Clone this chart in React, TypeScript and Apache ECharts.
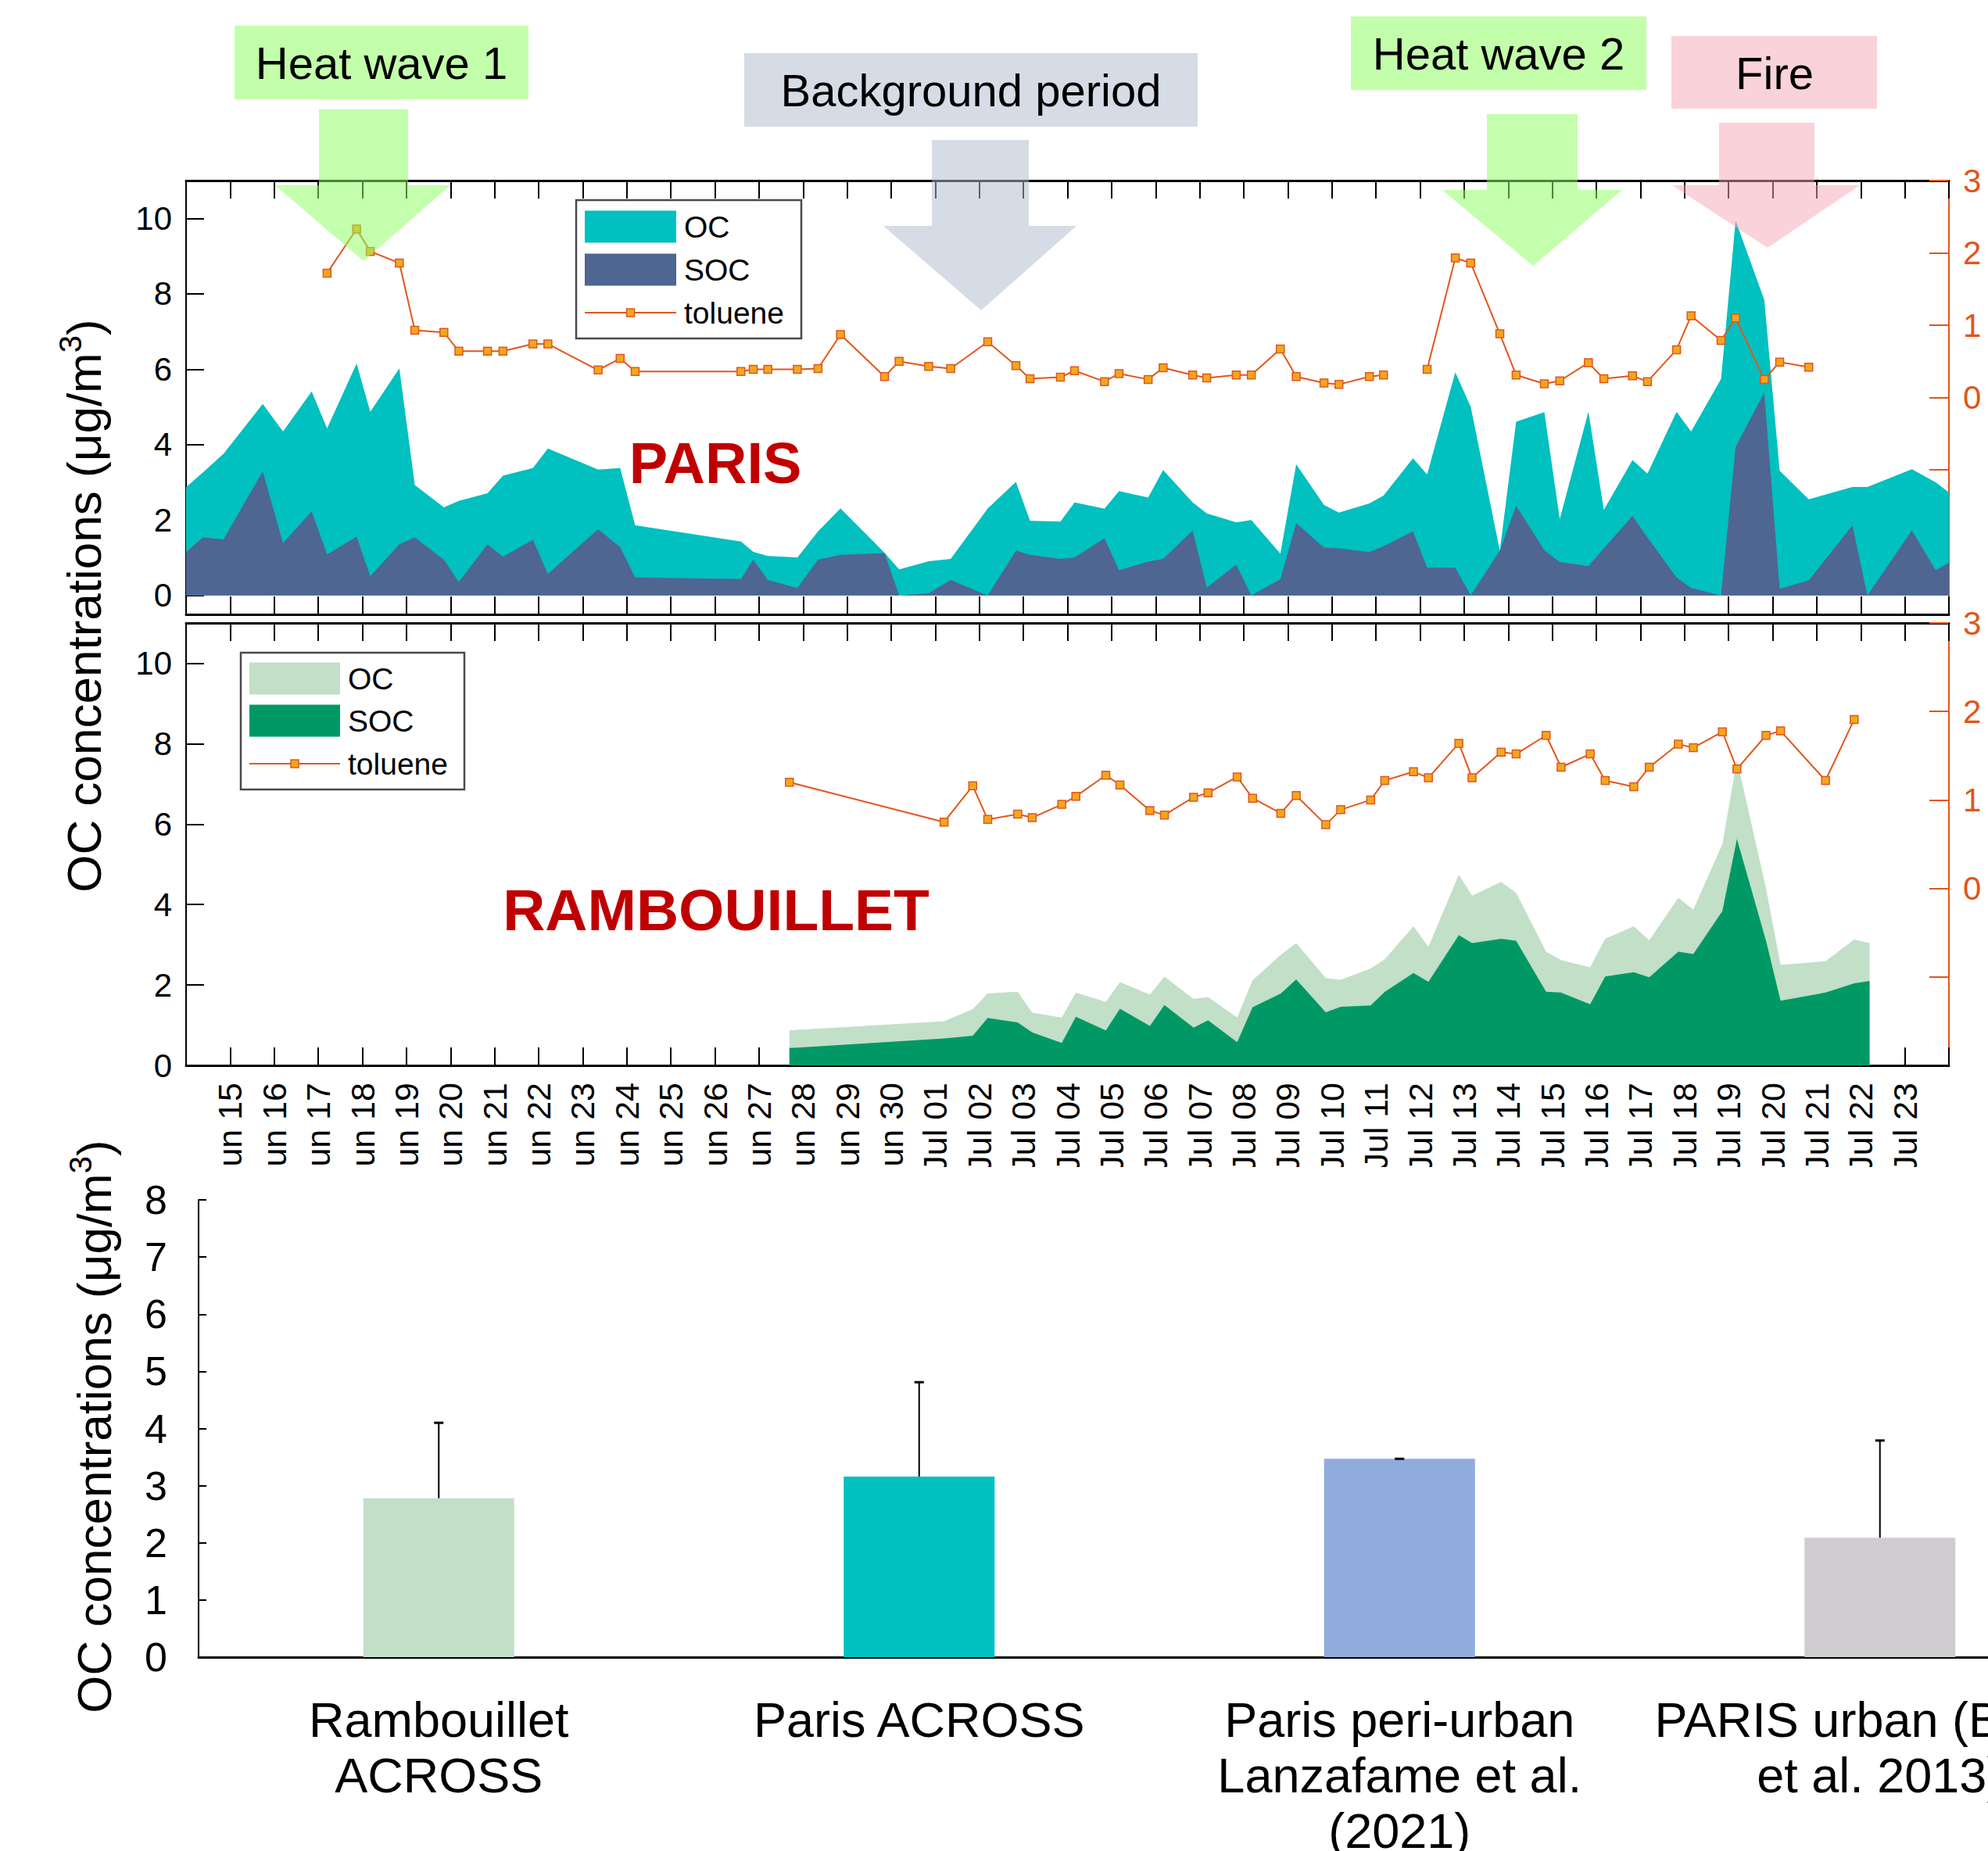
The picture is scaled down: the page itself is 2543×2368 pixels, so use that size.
import React, { useEffect, useRef } from 'react';
import * as echarts from 'echarts';

const FONT = '"Liberation Sans", Arial, Helvetica, sans-serif';

// ---------- tick labels (day 1 = Jun 15 ... day 39 = Jul 23; day 0 = Jun 14) ----------
const dateLabels = [
  'Jun 15', 'Jun 16', 'Jun 17', 'Jun 18', 'Jun 19', 'Jun 20', 'Jun 21', 'Jun 22', 'Jun 23', 'Jun 24',
  'Jun 25', 'Jun 26', 'Jun 27', 'Jun 28', 'Jun 29', 'Jun 30', 'Jul 01', 'Jul 02', 'Jul 03', 'Jul 04',
  'Jul 05', 'Jul 06', 'Jul 07', 'Jul 08', 'Jul 09', 'Jul 10', 'Jul 11', 'Jul 12', 'Jul 13', 'Jul 14',
  'Jul 15', 'Jul 16', 'Jul 17', 'Jul 18', 'Jul 19', 'Jul 20', 'Jul 21', 'Jul 22', 'Jul 23',
];

// ---------- PARIS (days since Jun 14) ----------
const parisDays = [
  0, 0.38, 0.85, 1.74, 2.2, 2.85, 3.2, 3.87, 4.18, 4.84, 5.19, 5.85, 6.19, 6.84, 7.19, 7.87, 8.21, 9.35, 9.85, 10.19,
  12.59, 12.87, 13.2, 13.87, 14.34, 14.85, 15.85, 16.18, 16.85, 17.35, 18.19, 18.83, 19.15, 19.84, 20.16, 20.84, 21.17,
  21.83, 22.17, 22.84, 23.16, 23.83, 24.17, 24.83, 25.19, 25.82, 26.16, 26.85, 27.17, 27.84, 28.16, 28.8, 29.15, 29.81,
  30.18, 30.82, 31.17, 31.82, 32.17, 32.82, 33.16, 33.82, 34.15, 34.83, 35.16, 35.81, 36.16, 36.82, 37.81, 38.15, 39.16,
  39.7, 40,
];
const parisOC = [
  2.87, 3.26, 3.76, 5.08, 4.35, 5.41, 4.43, 6.15, 4.87, 6.02, 2.93, 2.34, 2.51, 2.71, 3.18, 3.38, 3.9, 3.34, 3.38, 1.86,
  1.43, 1.16, 1.05, 1.01, 1.7, 2.31, 1.13, 0.69, 0.91, 0.97, 2.31, 3.01, 1.98, 1.96, 2.47, 2.3, 2.77,
  2.6, 3.33, 2.47, 2.18, 1.94, 2.0, 1.11, 3.48, 2.4, 2.2, 2.44, 2.65, 3.64, 3.21, 5.92, 5.0, 1.19,
  4.61, 4.86, 2.03, 4.87, 2.27, 3.59, 3.23, 4.87, 4.35, 5.74, 9.94, 7.84, 3.31, 2.55, 2.88, 2.88, 3.35,
  3.0, 2.73,
];
const parisSOC = [
  1.15, 1.54, 1.49, 3.29, 1.39, 2.23, 1.09, 1.56, 0.51, 1.36, 1.54, 0.95, 0.36, 1.36, 1.03, 1.48, 0.57, 1.76, 1.28, 0.48,
  0.44, 0.95, 0.41, 0.2, 0.95, 1.08, 1.12, 0.0, 0.06, 0.41, 0.0, 1.19, 1.08, 0.97, 1.01, 1.52, 0.67,
  0.9, 0.97, 1.72, 0.21, 0.82, 0.0, 0.43, 1.92, 1.27, 1.25, 1.15, 1.31, 1.7, 0.74, 0.74, 0.0, 1.19,
  2.38, 1.2, 0.89, 0.78, 1.25, 2.11, 1.54, 0.48, 0.2, 0.0, 3.94, 5.38, 0.18, 0.4, 1.86, 0.0, 1.73,
  0.67, 0.87,
];
const parisToluene = [
  null, null, null, null, null, null, 1.72, 2.33, 2.02, 1.86, 0.93, 0.9, 0.64, 0.64, 0.64, 0.74, 0.74, 0.38, 0.54, 0.36,
  0.36, 0.39, 0.39, 0.39, 0.4, 0.87, 0.29, 0.5, 0.43, 0.4, 0.77, 0.44, 0.26, 0.28, 0.37, 0.22, 0.33,
  0.25, 0.41, 0.31, 0.27, 0.31, 0.31, 0.67, 0.29, 0.2, 0.18, 0.29, 0.31, null, 0.39, 1.93, 1.86, 0.88,
  0.31, 0.19, 0.23, 0.48, 0.26, 0.3, 0.22, 0.66, 1.13, 0.79, 1.1, 0.25, 0.49, 0.42, null, null, null,
  null, null,
];

// ---------- RAMBOUILLET ----------
const rambDays = [
  13.69, 17.2, 17.85, 18.19, 18.87, 19.2, 19.87, 20.19, 20.87, 21.19, 21.87, 22.2, 22.86, 23.19, 23.85, 24.2, 24.84,
  25.19, 25.86, 26.2, 26.88, 27.2, 27.85, 28.19, 28.88, 29.18, 29.84, 30.18, 30.86, 31.2, 31.86, 32.2, 32.85, 33.2,
  33.86, 34.2, 34.86, 35.19, 35.85, 36.18, 37.2, 37.85, 38.2,
];
const rambOC = [
  0.87, 1.1, 1.4, 1.79, 1.83, 1.31, 1.19, 1.81, 1.58, 2.07, 1.76, 2.21, 1.65, 1.7, 1.19, 2.12, 2.75,
  3.04, 2.17, 2.13, 2.41, 2.64, 3.46, 2.95, 4.74, 4.22, 4.56, 4.29, 2.83, 2.62, 2.44, 3.15, 3.46, 3.11,
  4.17, 3.87, 5.5, 7.6, 4.4, 2.5, 2.59, 3.13, 3.04,
];
const rambSOC = [
  0.43, 0.67, 0.74, 1.18, 1.07, 0.82, 0.56, 1.21, 0.87, 1.41, 0.98, 1.5, 0.94, 1.12, 0.58, 1.45, 1.79,
  2.14, 1.32, 1.46, 1.49, 1.83, 2.3, 2.08, 3.24, 3.04, 3.15, 3.1, 1.83, 1.81, 1.52, 2.21, 2.32, 2.19,
  2.83, 2.77, 3.84, 5.63, 3.1, 1.61, 1.81, 2.04, 2.1,
];
const rambToluene = [
  1.2, 0.75, 1.16, 0.78, 0.84, 0.8, 0.95, 1.04, 1.28, 1.17, 0.88, 0.83, 1.03, 1.08, 1.26, 1.02, 0.85,
  1.05, 0.72, 0.89, 1.0, 1.22, 1.32, 1.25, 1.64, 1.25, 1.54, 1.52, 1.73, 1.37, 1.52, 1.22, 1.15, 1.37,
  1.63, 1.59, 1.77, 1.35, 1.73, 1.78, 1.22, 1.91, null,
];

// ---------- comparison bars ----------
const siteCategories = [
  'Rambouillet\nACROSS',
  'Paris ACROSS',
  'Paris peri-urban\nLanzafame et al.\n(2021)',
  'PARIS urban (Bressi\net al. 2013)',
];
const siteMeans = [2.78, 3.16, 3.47, 2.09];
const siteUpper = [4.1, 4.81, 3.47, 3.79];
const siteColors = ['#C2DFC8', '#00C0C0', '#8FACDC', '#CFCDCF'];

const TEAL = '#00C0C0';
const SLATE = '#4F6592';
const LIGHT_GREEN = '#C2DFC8';
const DARK_GREEN = '#009966';
const TOL_LINE = '#E2561C';
const TOL_FILL = '#F2A71F';
const AXIS_ORANGE = '#E0561B';

const pairs = (xs: number[], ys: (number | null)[]) =>
  xs.map((x, i) => [x, ys[i] == null ? '-' : ys[i]]);

function dayAxis(gridIndex: number, position: 'top' | 'bottom', labels: boolean) {
  return {
    type: 'value',
    gridIndex,
    position,
    min: 0,
    max: 40,
    interval: 1,
    axisLine: { show: true, onZero: false, lineStyle: { color: '#000', width: 3 } },
    axisTick: { show: true, inside: true, length: 23, lineStyle: { color: '#000', width: 2 } },
    axisLabel: labels
      ? {
          show: true,
          rotate: 90,
          margin: 22,
          fontSize: 43,
          fontFamily: FONT,
          color: '#000',
          formatter: (v: number) => (v >= 1 && v <= dateLabels.length ? dateLabels[v - 1] : ''),
        }
      : { show: false },
    splitLine: { show: false },
  };
}

function leftAxis(gridIndex: number, min: number) {
  const vals = [0, 2, 4, 6, 8, 10];
  return {
    type: 'value',
    gridIndex,
    position: 'left',
    min,
    max: 11,
    axisLine: { show: true, onZero: false, lineStyle: { color: '#000', width: 2 } },
    axisTick: { show: true, inside: true, length: 23, customValues: vals, lineStyle: { color: '#000', width: 2 } },
    axisLabel: { show: true, customValues: vals, fontSize: 42, fontFamily: FONT, color: '#000', margin: 18 },
    splitLine: { show: false },
  };
}

function rightAxis(gridIndex: number, min: number) {
  return {
    type: 'value',
    gridIndex,
    position: 'right',
    min,
    max: 3,
    axisLine: { show: true, onZero: false, lineStyle: { color: AXIS_ORANGE, width: 2 } },
    axisTick: {
      show: true,
      inside: true,
      length: 25,
      customValues: [-1, 0, 1, 2, 3],
      lineStyle: { color: AXIS_ORANGE, width: 2 },
    },
    axisLabel: { show: true, customValues: [0, 1, 2, 3], fontSize: 42, fontFamily: FONT, color: AXIS_ORANGE, margin: 18 },
    splitLine: { show: false },
  };
}

function areaSeries(name: string, x: number, y: number, data: any[], color: string, z: number) {
  return {
    type: 'line',
    name,
    xAxisIndex: x,
    yAxisIndex: y,
    data,
    symbol: 'none',
    showSymbol: false,
    lineStyle: { width: 0, color },
    itemStyle: { color },
    areaStyle: { color, opacity: 1 },
    z,
    silent: true,
  };
}

function tolSeries(x: number, y: number, data: any[]) {
  return {
    type: 'line',
    name: 'toluene',
    xAxisIndex: x,
    yAxisIndex: y,
    data,
    connectNulls: false,
    symbol: 'rect',
    symbolSize: 10,
    showSymbol: true,
    lineStyle: { color: TOL_LINE, width: 2 },
    itemStyle: { color: TOL_FILL, borderColor: TOL_LINE, borderWidth: 1.5 },
    z: 5,
    silent: true,
  };
}

function txt(text: string, x: number, y: number, size: number, opts: any = {}) {
  return {
    type: 'text',
    x,
    y,
    z: 110,
    silent: true,
    rotation: opts.rotation || 0,
    style: {
      text,
      font: `${opts.bold ? 'bold ' : ''}${size}px ${FONT}`,
      fill: opts.color || '#000',
      textAlign: opts.align || 'left',
      align: opts.align || 'left',
      textVerticalAlign: 'middle',
      verticalAlign: 'middle',
      rich: opts.rich,
    },
  };
}

function box(x: number, y: number, w: number, h: number, fill: string, z = 90, extra: any = {}) {
  return { type: 'rect', z, silent: true, shape: { x, y, width: w, height: h }, style: { fill, ...extra } };
}

function arrow(sl: number, sr: number, top: number, base: number, hl: number, hr: number, tx: number, ty: number, fill: string) {
  return {
    type: 'polygon',
    z: 100,
    silent: true,
    shape: { points: [[sl, top], [sr, top], [sr, base], [hr, base], [tx, ty], [hl, base], [sl, base]] },
    style: { fill },
  };
}

function legend(x: number, y: number, w: number, h: number, c1: string, c2: string, sx: number, sw: number, y1: number, y2: number, y3: number, tx: number) {
  return [
    box(x, y, w, h, '#fff', 95, { stroke: '#4a4a4a', lineWidth: 2.5 }),
    box(sx, y1 - 20.5, sw, 41, c1, 96),
    box(sx, y2 - 20.5, sw, 41, c2, 96),
    { type: 'line', z: 96, silent: true, shape: { x1: sx, y1: y3, x2: sx + sw, y2: y3 }, style: { stroke: TOL_LINE, lineWidth: 2 } },
    box(sx + sw / 2 - 5, y3 - 5, 10, 10, TOL_FILL, 97, { stroke: TOL_LINE, lineWidth: 1.5 }),
    txt('OC', tx, y1, 39),
    txt('SOC', tx, y2, 39),
    txt('toluene', tx, y3, 39),
  ];
}

const supRich = { sup: { fontSize: 40, fontFamily: FONT, verticalAlign: 'top', fill: '#000', lineHeight: 74 } };

const option: any = {
  animation: false,
  backgroundColor: '#fff',
  grid: [
    { left: 238, top: 231, width: 2255, height: 555, outerBoundsMode: 'none' },
    { left: 238, top: 797, width: 2255, height: 566, outerBoundsMode: 'none' },
    { left: 254, top: 1535, width: 2458, height: 585, outerBoundsMode: 'none' },
  ],
  xAxis: [
    dayAxis(0, 'bottom', false),
    dayAxis(0, 'top', false),
    dayAxis(1, 'bottom', true),
    dayAxis(1, 'top', false),
    {
      type: 'category',
      gridIndex: 2,
      data: siteCategories,
      axisLine: { show: true, onZero: false, lineStyle: { color: '#000', width: 3 } },
      axisTick: { show: false },
      axisLabel: { interval: 0, fontSize: 63, lineHeight: 71, fontFamily: FONT, color: '#000', margin: 44, verticalAlign: 'top' },
      splitLine: { show: false },
    },
  ],
  yAxis: [
    leftAxis(0, -0.5),
    rightAxis(0, -3),
    leftAxis(1, 0),
    rightAxis(1, -2),
    {
      type: 'value',
      gridIndex: 2,
      min: 0,
      max: 8,
      interval: 1,
      axisLine: { show: true, onZero: false, lineStyle: { color: '#000', width: 2 } },
      axisTick: { show: true, inside: true, length: 10, lineStyle: { color: '#000', width: 2 } },
      axisLabel: { fontSize: 52, fontFamily: FONT, color: '#000', margin: 40 },
      splitLine: { show: false },
    },
  ],
  series: [
    areaSeries('OC', 0, 0, pairs(parisDays, parisOC), TEAL, 2),
    areaSeries('SOC', 0, 0, pairs(parisDays, parisSOC), SLATE, 3),
    tolSeries(0, 1, pairs(parisDays, parisToluene)),
    areaSeries('OC', 2, 2, pairs(rambDays, rambOC), LIGHT_GREEN, 2),
    areaSeries('SOC', 2, 2, pairs(rambDays, rambSOC), DARK_GREEN, 3),
    tolSeries(2, 3, pairs(rambDays, rambToluene)),
    {
      type: 'bar',
      xAxisIndex: 4,
      yAxisIndex: 4,
      barWidth: 193,
      silent: true,
      data: siteMeans.map((v, i) => ({ value: v, itemStyle: { color: siteColors[i] } })),
      z: 2,
    },
    {
      type: 'custom',
      xAxisIndex: 4,
      yAxisIndex: 4,
      silent: true,
      z: 5,
      encode: { x: 0, y: [1, 2] },
      data: siteMeans.map((v, i) => [i, v, siteUpper[i]]),
      renderItem: (_params: any, api: any) => {
        const i = api.value(0);
        const lo = api.coord([i, api.value(1)]);
        const hi = api.coord([i, api.value(2)]);
        return {
          type: 'group',
          children: [
            { type: 'line', shape: { x1: lo[0], y1: lo[1], x2: hi[0], y2: hi[1] }, style: { stroke: '#000', lineWidth: 2 } },
            { type: 'line', shape: { x1: hi[0] - 6, y1: hi[1], x2: hi[0] + 6, y2: hi[1] }, style: { stroke: '#000', lineWidth: 3 } },
          ],
        };
      },
    },
  ],
  graphic: {
    elements: [
      // annotation boxes
      box(300, 33, 376, 94, '#C3FFAA'),
      txt('Heat wave 1', 488, 80, 58, { align: 'center' }),
      box(952, 68, 580, 94, '#D6DCE5'),
      txt('Background period', 1242, 115, 58, { align: 'center' }),
      box(1728, 21, 378, 94, '#C3FFAA'),
      txt('Heat wave 2', 1917, 68, 58, { align: 'center' }),
      box(2138, 46, 263, 93, '#FAD2D9'),
      txt('Fire', 2270, 93, 58, { align: 'center' }),
      // arrows
      arrow(408, 522, 140, 237, 352, 576, 465, 334, 'rgba(140,255,95,0.52)'),
      arrow(1192, 1316, 179, 289, 1130, 1377, 1255, 397, 'rgba(175,188,207,0.52)'),
      arrow(1902, 2018, 146, 243, 1845, 2075, 1961, 340, 'rgba(140,255,95,0.52)'),
      arrow(2199, 2321, 157, 237, 2139, 2379, 2261, 317, 'rgba(245,165,180,0.5)'),
      // legends
      ...legend(737, 256, 288, 177, TEAL, SLATE, 748, 117, 290, 345, 400, 875),
      ...legend(308, 835, 286, 175, LIGHT_GREEN, DARK_GREEN, 319, 116, 868, 922, 977, 445),
      // panel labels
      txt('PARIS', 915, 592, 74, { bold: true, color: '#C00000', align: 'center' }),
      txt('RAMBOUILLET', 916, 1164, 75, { bold: true, color: '#C00000', align: 'center' }),
      // y titles
      txt('OC concentrations (μg/m{sup|3})', 107, 775, 62, { align: 'center', rotation: Math.PI / 2, rich: supRich }),
      txt('OC concentrations (μg/m{sup|3})', 120, 1825, 62, { align: 'center', rotation: Math.PI / 2, rich: supRich }),
      // clipping of the rotated date labels
      box(240, 1493, 2400, 28, '#fff', 105),
    ],
  },
};

export default function App() {
  const ref = useRef<HTMLDivElement>(null);
  useEffect(() => {
    if (!ref.current) return;
    const chart = echarts.init(ref.current, null, { renderer: 'svg' });
    chart.setOption(option);
    return () => chart.dispose();
  }, []);
  return (
    <div style={{ position: 'fixed', left: 0, top: 0, width: 2543, height: 2368, overflow: 'hidden', background: '#fff' }}>
      <div ref={ref} style={{ width: 2750, height: 2368 }} />
    </div>
  );
}
